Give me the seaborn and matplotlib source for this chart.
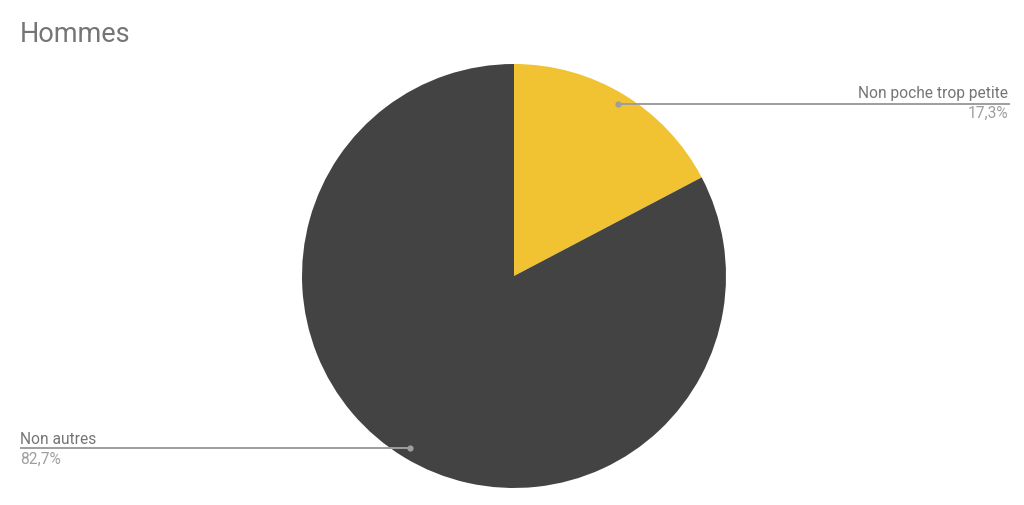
import numpy as np
import matplotlib
matplotlib.use("Agg")
import matplotlib.pyplot as plt
import seaborn as sns

title = "Hommes"
categories = ["Non poche trop petite", "Non autres"]
values = [17.3, 82.7]
pct_labels = ["17,3%", "82,7%"]
colors = ["#F1C232", "#434343"]

sns.set_theme(style="white")
plt.rcParams['font.family'] = ['Roboto', 'DejaVu Sans']

W, H = 1024, 505
fig = plt.figure(figsize=(W / 100, H / 100), dpi=100)
ax = fig.add_axes([0, 0, 1, 1])
cx, cy, R = 514, H - 276, 212

wedges, _ = ax.pie(values, colors=colors, startangle=90, counterclock=False,
                   center=(cx, cy), radius=R, wedgeprops=dict(linewidth=0))
ax.set_xlim(0, W)
ax.set_ylim(0, H)
ax.set_aspect('equal')
ax.axis('off')

fig.text(20 / W, (H - 42) / H, title, fontsize=19.5, color="#757575", va='baseline', ha='left')

line_c = "#9e9e9e"
total = sum(values)
cum = 0
for i, (cat, v, p) in enumerate(zip(categories, values, pct_labels)):
    mid = (cum + v / 2) / total * 360
    cum += v
    ang = np.deg2rad(90 - mid)
    px, py = cx + 0.95 * R * np.cos(ang), cy + 0.95 * R * np.sin(ang)
    if np.cos(ang) >= 0:
        xe = 1010
        ax.plot([px, xe], [py, py], color=line_c, lw=1.4, solid_capstyle='butt')
        ax.plot(px, py, 'o', color=line_c, ms=4.5, mec='none')
        ax.text(1008, py + 5.5, cat, fontsize=11.2, color="#757575", ha='right', va='baseline')
        ax.text(1008, py - 14.5, p, fontsize=11.2, color="#9e9e9e", ha='right', va='baseline')
    else:
        xe = 20
        ax.plot([xe, px], [py, py], color=line_c, lw=1.4, solid_capstyle='butt')
        ax.plot(px, py, 'o', color=line_c, ms=4.5, mec='none')
        ax.text(20, py + 4.5, cat, fontsize=11.2, color="#757575", ha='left', va='baseline')
        ax.text(20, py - 15.5, p, fontsize=11.2, color="#9e9e9e", ha='left', va='baseline')

fig.savefig("out.png", dpi=100, facecolor="white")
